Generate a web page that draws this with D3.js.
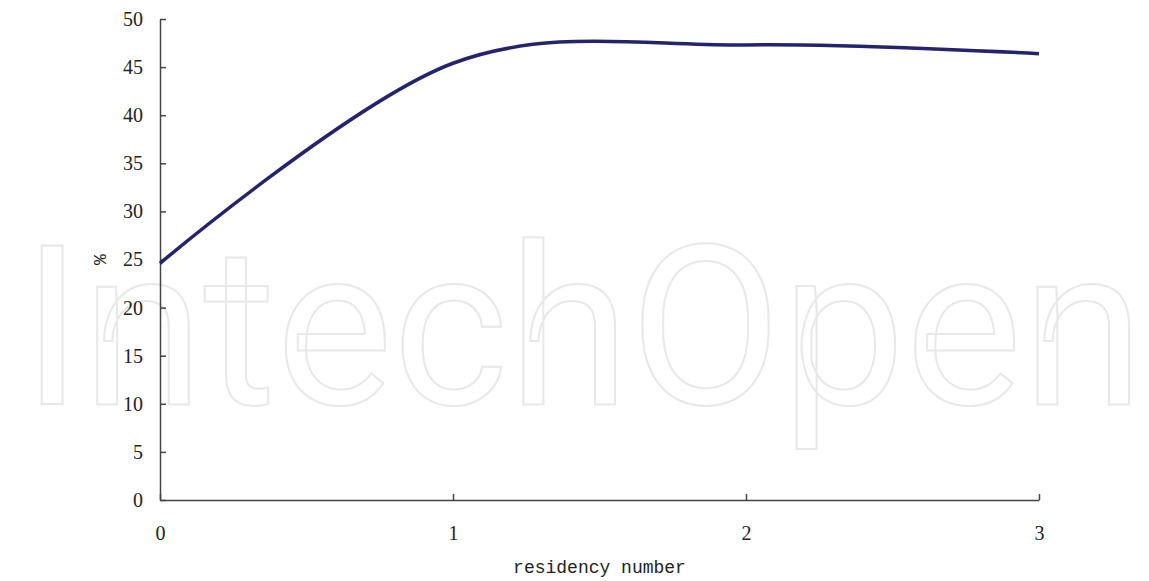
<!DOCTYPE html>
<html lang="en">
<head>
    <meta charset="UTF-8">
    <title>Residency number chart</title>
    <script src="https://d3js.org/d3.v7.min.js"></script>
    <style>
        body { margin: 0; background: #fff; }
        svg { display: block; }
        .axis text { font-family: "Liberation Serif", serif; font-size: 20px; fill: #222; }
        .axis path, .axis line { stroke: #444; stroke-width: 1.5px; fill: none; }
        .title { font-family: "Liberation Mono", monospace; font-size: 18px; fill: #222; }
    </style>
</head>
<body>
    <svg id="chart" width="1149" height="581"></svg>
    <script>
        var xValues = [0, 1, 2, 3];
        var yValues = [24.6, 45.4, 47.3, 46.4];
        var xTicks = [0, 1, 2, 3];
        var yTicks = [0, 5, 10, 15, 20, 25, 30, 35, 40, 45, 50];

        var margin = {top: 19, right: 110, bottom: 81, left: 160},
            width = 1149 - margin.left - margin.right,
            height = 581 - margin.top - margin.bottom;

        var svg = d3.select("#chart");

        // watermark behind the chart
        svg.append("text")
            .attr("x", 22)
            .attr("y", 404)
            .attr("textLength", 1122)
            .attr("lengthAdjust", "spacingAndGlyphs")
            .style("font-family", "Roboto, sans-serif")
            .style("font-size", "222px")
            .style("font-weight", "400")
            .style("fill", "none")
            .style("stroke", "#e8e8e8")
            .style("stroke-width", 2)
            .text("IntechOpen");

        var g = svg.append("g")
            .attr("transform", "translate(" + margin.left + "," + margin.top + ")");

        var x = d3.scaleLinear().domain([0, 3]).range([0, width]);
        var y = d3.scaleLinear().domain([0, 50]).range([height, 0]);

        g.append("g")
            .attr("class", "axis")
            .attr("transform", "translate(0," + height + ")")
            .call(d3.axisBottom(x).tickValues(xTicks).tickSize(-6).tickSizeOuter(0).tickPadding(26).tickFormat(d3.format("d")));

        g.append("g")
            .attr("class", "axis")
            .call(d3.axisLeft(y).tickValues(yTicks).tickSize(-6).tickSizeOuter(0).tickPadding(17));

        // x axis title
        g.append("text")
            .attr("class", "title")
            .attr("x", x(1.5))
            .attr("y", height + 73)
            .style("text-anchor", "middle")
            .text("residency number");

        // y axis title
        g.append("text")
            .attr("class", "title")
            .attr("transform", "translate(-60," + y(25) + ") rotate(-90)")
            .style("text-anchor", "middle")
            .attr("dy", "0.35em")
            .text("%");

        var data = xValues.map(function(d, i) { return {x: d, y: yValues[i]}; });

        // excel-style smoothed line
        var line = d3.line()
            .x(function(d) { return x(d.x); })
            .y(function(d) { return y(d.y); })
            .curve(d3.curveCardinal.tension(0));

        g.append("path")
            .datum(data)
            .attr("fill", "none")
            .attr("stroke", "#24246e")
            .attr("stroke-width", 3.5)
            .attr("d", line);
    </script>
</body>
</html>
